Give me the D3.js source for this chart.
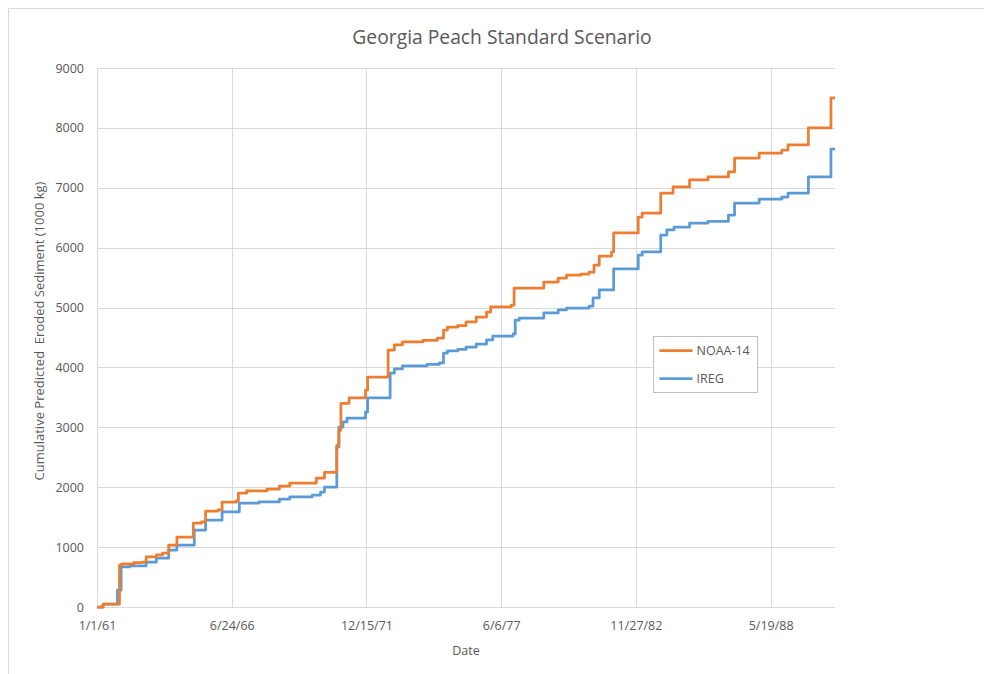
<!DOCTYPE html>
<html>
<head>
<meta charset="utf-8">
<script src="https://cdn.jsdelivr.net/npm/d3@7"></script>
<style>
  body { margin: 0; background: #fff; }
  text { font-family: "Open Sans", sans-serif; fill: #595959; }
</style>
</head>
<body>
<svg id="chart" width="984" height="674"></svg>
<script>
// values
const noaaDates = ["1961-01-01","1961-04-01","1961-12-01","1962-01-01","1962-07-01","1962-11-01","1963-01-01","1963-06-01","1963-09-01",
  "1963-12-01","1964-04-01","1964-12-01","1965-04-01","1965-06-01","1965-12-01","1966-02-01","1966-09-01","1966-10-01","1967-02-01",
  "1967-12-01","1968-06-01","1968-11-01","1969-12-01","1970-04-01","1970-10-01","1970-11-01","1970-12-01","1971-04-01","1971-12-01",
  "1972-01-01","1972-11-01","1973-02-01","1973-06-01","1974-04-01","1974-11-01","1975-02-01","1975-04-01","1975-09-01","1976-01-01",
  "1976-06-01","1976-11-01","1977-01-01","1977-11-01","1977-12-15","1979-03-01","1979-10-01","1980-02-01","1980-09-01","1981-01-01",
  "1981-03-15","1981-06-01","1981-12-01","1982-01-01","1983-01-01","1983-03-01","1983-12-01","1984-06-01","1985-02-01","1985-11-01",
  "1986-09-01","1986-12-01","1987-12-01","1988-11-01","1989-02-01","1989-12-01","1990-11-01","1990-12-31"];
const noaaValues = [0, 50, 700, 720, 740, 750, 835, 870, 900,
  1035, 1165, 1400, 1420, 1600, 1620, 1750, 1770, 1900, 1940,
  1970, 2020, 2070, 2150, 2250, 2700, 2950, 3400, 3490, 3620,
  3840, 4290, 4375, 4425, 4450, 4490, 4625, 4675, 4700, 4760,
  4840, 4925, 5010, 5040, 5325, 5425, 5490, 5540, 5560, 5590,
  5710, 5860, 5930, 6245, 6510, 6575, 6910, 7015, 7130, 7180,
  7265, 7495, 7580, 7630, 7715, 8000, 8500, 8500];

const iregDates = ["1961-01-01","1961-04-01","1961-11-01","1961-12-25","1962-05-01","1963-01-01","1963-06-01","1963-12-01","1964-04-01",
  "1964-12-15","1965-06-01","1966-02-01","1966-10-15","1967-08-01","1968-06-01","1968-11-01","1969-10-01","1970-02-01","1970-04-01",
  "1970-10-01","1970-11-01","1971-01-01","1971-03-01","1971-12-01","1972-01-01","1972-12-01","1973-02-01","1973-06-01","1974-06-01",
  "1974-12-01","1975-02-01","1975-04-01","1975-09-01","1976-01-01","1976-06-01","1976-11-01","1977-02-01","1977-12-01","1978-01-01",
  "1978-03-01","1979-03-01","1979-10-01","1980-02-01","1981-01-01","1981-03-01","1981-06-01","1982-01-01","1983-01-01","1983-03-01",
  "1983-12-01","1984-03-01","1984-06-15","1985-02-01","1985-11-01","1986-09-01","1986-12-01","1987-12-01","1988-11-01","1989-02-01",
  "1989-12-01","1990-11-01","1990-12-31"];
const iregValues = [0, 50, 280, 670, 685, 750, 815, 950, 1035,
  1285, 1450, 1590, 1735, 1755, 1800, 1840, 1870, 1920, 2000,
  2670, 3005, 3090, 3155, 3255, 3490, 3905, 3975, 4025, 4050,
  4075, 4240, 4275, 4300, 4340, 4390, 4460, 4525, 4560, 4790,
  4825, 4910, 4960, 4990, 5025, 5160, 5295, 5645, 5875, 5930,
  6210, 6295, 6345, 6410, 6440, 6545, 6745, 6810, 6845, 6910,
  7180, 7645, 7645];

const yTicks = [0, 1000, 2000, 3000, 4000, 5000, 6000, 7000, 8000, 9000];
const xTickDates = ["1961-01-01","1966-06-24","1971-12-15","1977-06-06","1982-11-27","1988-05-19"];
const xTickLabels = ["1/1/61","6/24/66","12/15/71","6/6/77","11/27/82","5/19/88"];

const parse = d3.timeParse("%Y-%m-%d");
const orange = "#ED7D31", blue = "#5B9BD5", grid = "#d9d9d9";

const svg = d3.select("#chart");
const plot = {left: 97, top: 68, right: 835, bottom: 607};

// outer chart frame
svg.append("path")
  .attr("d", "M8.5,674 V8.5 H984")
  .attr("fill", "none")
  .attr("stroke", grid);

const x = d3.scaleTime()
  .domain([parse("1961-01-01"), parse("1990-12-31")])
  .range([plot.left, plot.right]);
const y = d3.scaleLinear()
  .domain([0, 9000])
  .range([plot.bottom, plot.top]);

// gridlines
svg.append("g").selectAll("line")
  .data(yTicks)
  .join("line")
  .attr("x1", plot.left).attr("x2", plot.right)
  .attr("y1", d => Math.round(y(d)) + 0.5).attr("y2", d => Math.round(y(d)) + 0.5)
  .attr("stroke", grid);
svg.append("g").selectAll("line")
  .data(xTickDates)
  .join("line")
  .attr("x1", d => Math.round(x(parse(d))) + 0.5).attr("x2", d => Math.round(x(parse(d))) + 0.5)
  .attr("y1", plot.top).attr("y2", plot.bottom)
  .attr("stroke", grid);

// axes
const yAxis = svg.append("g")
  .attr("transform", `translate(${plot.left},0)`)
  .call(d3.axisLeft(y).tickValues(yTicks).tickFormat(d3.format("d")).tickSize(0).tickPadding(13));
const xAxis = svg.append("g")
  .attr("transform", `translate(0,${plot.bottom})`)
  .call(d3.axisBottom(x).tickValues(xTickDates.map(parse))
    .tickFormat((d, i) => xTickLabels[i]).tickSize(0).tickPadding(14));
[yAxis, xAxis].forEach(a => {
  a.select(".domain").remove();
  a.selectAll("text").attr("font-size", 12.5).attr("font-family", null).attr("fill", null);
});

// series
const line = d3.line()
  .x(d => x(d.date))
  .y(d => y(d.value))
  .curve(d3.curveStepAfter);

const series = [
  {name: "IREG", color: blue, data: iregDates.map((d, i) => ({date: parse(d), value: iregValues[i]}))},
  {name: "NOAA-14", color: orange, data: noaaDates.map((d, i) => ({date: parse(d), value: noaaValues[i]}))}
];
svg.append("g").selectAll("path")
  .data(series)
  .join("path")
  .attr("d", d => line(d.data))
  .attr("fill", "none")
  .attr("stroke", d => d.color)
  .attr("stroke-width", 2.75)
  .attr("stroke-linejoin", "round");

// titles
svg.append("text")
  .attr("x", 502).attr("y", 44)
  .attr("text-anchor", "middle")
  .attr("font-size", 19.3)
  .text("Georgia Peach Standard Scenario");
svg.append("text")
  .attr("x", (plot.left + plot.right) / 2).attr("y", 655)
  .attr("text-anchor", "middle")
  .attr("font-size", 12.5)
  .text("Date");
svg.append("text")
  .attr("transform", "translate(44,331) rotate(-90)")
  .attr("text-anchor", "middle")
  .attr("font-size", 13)
  .style("white-space", "pre")
  .text("Cumulative Predicted  Eroded Sediment (1000 kg)");

// legend
const legend = svg.append("g").attr("transform", "translate(653.5,336.5)");
legend.append("rect")
  .attr("width", 104).attr("height", 56)
  .attr("fill", "#fff").attr("stroke", "#bfbfbf");
legend.selectAll("g.item")
  .data([series[1], series[0]])
  .join("g")
  .attr("class", "item")
  .attr("transform", (d, i) => `translate(0,${14 + i * 28})`)
  .each(function (d) {
    const g = d3.select(this);
    g.append("line").attr("x1", 6).attr("x2", 39)
      .attr("stroke", d.color).attr("stroke-width", 2.75);
    g.append("text").attr("x", 43).attr("dy", "0.35em")
      .attr("font-size", 12.5).text(d.name);
  });
</script>
</body>
</html>
